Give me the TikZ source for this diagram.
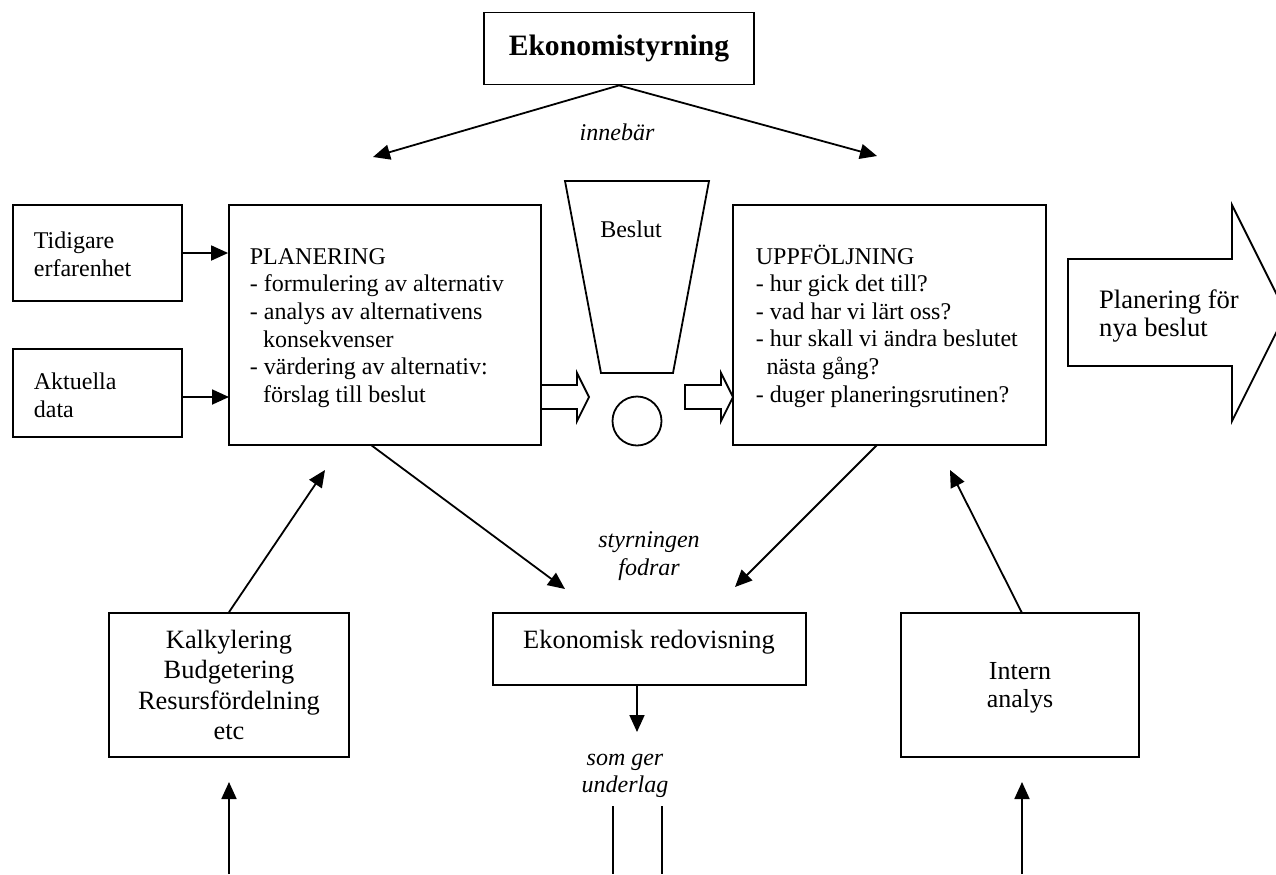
\documentclass[tikz,border=0pt]{standalone}
\usepackage{fontspec}
\setmainfont{Liberation Serif}
\usetikzlibrary{arrows.meta,calc}
\begin{document}
\begin{tikzpicture}[x=0.5pt,y=-0.5pt,line width=0.9pt,
  box/.style={draw,rectangle,inner sep=0pt},
  arr/.style={-{Triangle[length=8.5pt,width=7.5pt]}},
  body/.style={font=\fontsize{12}{13.8}\selectfont},
  big/.style={font=\fontsize{13.2}{15.3}\selectfont},
  lbl/.style={font=\fontsize{12}{13.6}\selectfont\itshape,align=center,inner sep=0pt}]
\useasboundingbox (0,0) rectangle (1276,874);
\clip (0,0) rectangle (1276,874);

% boxes
\node[box,minimum width=135pt,minimum height=36pt,font=\fontsize{14.8}{16}\selectfont\bfseries] (top) at (619,48.5) {Ekonomistyrning};
\node[box,minimum width=84.5pt,minimum height=48pt] (tid) at (97.5,253) {};
\node[body,align=left,anchor=west,inner sep=0pt] (tidtext) at (33,254) {Tidigare\\erfarenhet};
\node[box,minimum width=84.5pt,minimum height=44pt] (akt) at (97.5,393) {};
\node[body,align=left,anchor=west,inner sep=0pt] (akttext) at (33,395) {Aktuella\\data};
\node[box,minimum width=156pt,minimum height=120pt] (plan) at (385,325) {};
\node[body,align=left,anchor=west,inner sep=0pt] (plantext) at (249,328)
 {PLANERING\\- formulering av alternativ\\- analys av alternativens\\\hspace*{0.55em}konsekvenser\\- värdering av alternativ:\\\hspace*{0.55em}förslag till beslut};
\node[box,minimum width=156.5pt,minimum height=120pt] (upp) at (889.5,325) {};
\node[body,align=left,anchor=west,inner sep=0pt] (upptext) at (755,326)
 {UPPFÖLJNING\\- hur gick det till?\\- vad har vi lärt oss?\\- hur skall vi ändra beslutet\\\hspace*{0.45em}nästa gång?\\- duger planeringsrutinen?};
\node[box,big,minimum width=120pt,minimum height=72pt,align=center] (kalk) at (229,685) {Kalkylering\\Budgetering\\Resursfördelning\\etc};
\node[box,minimum width=156.5pt,minimum height=36pt] (er) at (649.5,649) {};
\node[big,anchor=base,inner sep=0pt] (ertext) at (649,648) {Ekonomisk redovisning};
\node[box,minimum width=119pt,minimum height=72pt] (intern) at (1020,685) {};
\node[font=\fontsize{13}{14}\selectfont,align=center,inner sep=0pt] (interntext) at (1020,688) {Intern\\analys};

% Beslut shape
\draw (565,181) -- (709,181) -- (673,373) -- (601,373) -- cycle;
\node[body,anchor=base,inner sep=0pt] (beslut) at (631,237) {Beslut};
\node[draw,circle,minimum size=24.5pt,inner sep=0pt] (dot) at (637,421) {};

% open block arrows
\draw (541,385) -- (577,385) -- (577,373) -- (589,397) -- (577,421) -- (577,409) -- (541,409);
\draw (685,385) -- (721,385) -- (721,373) -- (733,397) -- (721,421) -- (721,409) -- (685,409) -- cycle;
\draw (1068,259) -- (1232,259) -- (1232,205) -- (1286,313) -- (1232,421) -- (1232,366) -- (1068,366) -- cycle;
\node[font=\fontsize{13.3}{14}\selectfont,align=left,inner sep=0pt] (nya) at (1169,316) {Planering för\\nya beslut};

% labels
\node[lbl,anchor=base] (inneb) at (617,140) {innebär};
\node[lbl] (styr) at (649,556) {styrningen\\fodrar};
\node[lbl] (somger) at (625,776) {som ger\\underlag};

% coordinates
\coordinate (tl) at (373,157);
\coordinate (tr) at (877,156);
\coordinate (ain) at (229,397);
\coordinate (p1) at (371,445);
\coordinate (e1) at (565,589);
\coordinate (u1) at (877,445);
\coordinate (e2) at (735,587);
\coordinate (k1) at (325,470);
\coordinate (i1) at (950,470);
\coordinate (kb) at (229,874);
\coordinate (kt) at (229,782);
\coordinate (ib) at (1022,874);
\coordinate (it) at (1022,782);
\coordinate (i0) at (1022,613);
\coordinate (d0) at (637,685);
\coordinate (d1) at (637,732);

% connectors
\draw[arr] (top.south) -- (tl);
\draw[arr] (top.south) -- (tr);
\draw[arr] (tid.east) -- (tid.east -| plan.west);
\draw[arr] (akt.east |- ain) -- (ain);
\draw[arr] (p1) -- (e1);
\draw[arr] (u1) -- (e2);
\draw[arr] (kalk.north) -- (k1);
\draw[arr] (i0) -- (i1);
\draw[arr] (kb) -- (kt);
\draw[arr] (ib) -- (it);
\draw[arr] (d0) -- (d1);
\draw (613,806) -- (613,874);
\draw (662,806) -- (662,874);
\end{tikzpicture}
\end{document}
